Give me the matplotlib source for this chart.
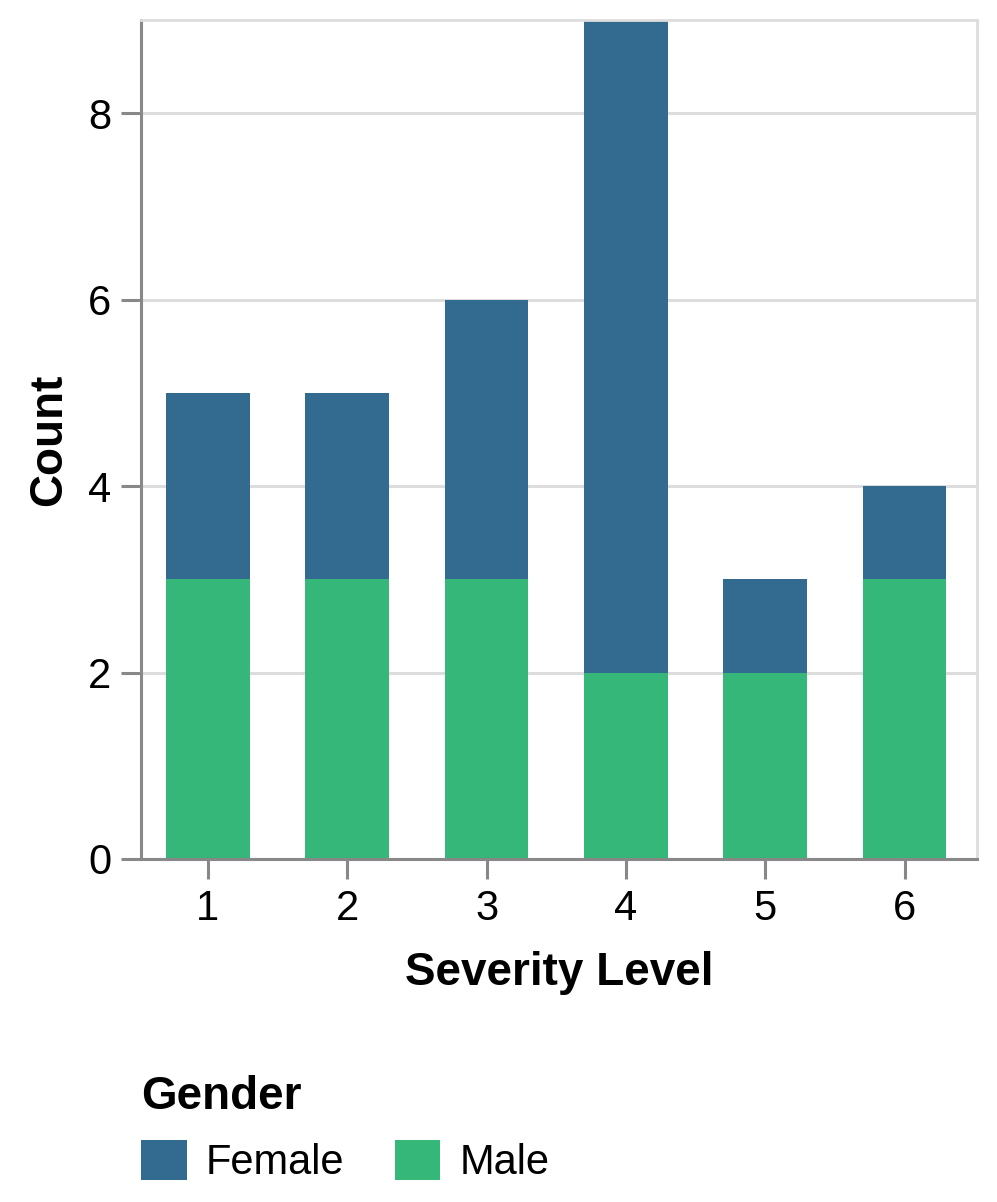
import matplotlib.pyplot as plt
from matplotlib.patches import Patch
import numpy as np

plt.rcParams['font.family'] = ['Liberation Sans', 'DejaVu Sans']

# counts per severity level, stacked by gender
levels = ['1', '2', '3', '4', '5', '6']
male = [3, 3, 3, 2, 2, 3]
female = [2, 2, 3, 7, 1, 1]

col_female = '#336a90'
col_male = '#35b779'
axis_col = '#888888'
grid_col = '#dddddd'

fig = plt.figure(figsize=(9.97, 12.02), dpi=100)
ax = fig.add_axes([141/997, 1 - 859/1202, (977-141)/997, (859-20)/1202])

x = np.arange(len(levels))
ax.bar(x, male, width=0.6, color=col_male, zorder=2)
ax.bar(x, female, width=0.6, bottom=male, color=col_female, zorder=2)

ax.set_xlim(-0.48, len(levels) - 0.48)
ax.set_ylim(0, 9)
ax.set_xticks(x)
ax.set_xticklabels(levels)
ax.set_yticks([0, 2, 4, 6, 8])

ax.yaxis.grid(True, color=grid_col, linewidth=2.2, zorder=0)
ax.set_axisbelow(True)

for s in ['left', 'bottom']:
    ax.spines[s].set_color(axis_col)
    ax.spines[s].set_linewidth(2.2)
for s in ['top', 'right']:
    ax.spines[s].set_color(grid_col)
    ax.spines[s].set_linewidth(2)

ax.tick_params(axis='both', length=14.5, width=2.2, color=axis_col,
               labelsize=30, pad=7)

ax.set_xlabel('Severity Level', fontsize=33, fontweight='bold', labelpad=16)
ax.set_ylabel('Count', fontsize=33, fontweight='bold', labelpad=12)

handles = [Patch(facecolor=col_female, edgecolor='none', label='Female'),
           Patch(facecolor=col_male, edgecolor='none', label='Male')]
leg = fig.legend(handles=handles, title='Gender', ncol=2, frameon=False,
                 loc='upper left', bbox_to_anchor=(124/997, 1 - 1058/1202),
                 fontsize=30, title_fontproperties={'size': 33, 'weight': 'bold'},
                 handlelength=1.1, handleheight=1.1, handletextpad=0.45,
                 columnspacing=1.22, alignment='left', borderaxespad=0)

fig.savefig('out.png', dpi=100)
